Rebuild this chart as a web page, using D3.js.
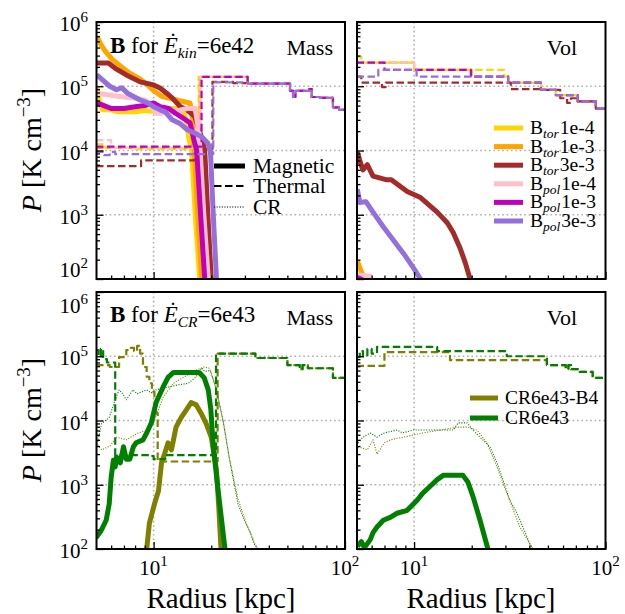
<!DOCTYPE html>
<html>
<head>
<meta charset="utf-8">
<script src="https://cdn.jsdelivr.net/npm/d3@7"></script>
<style>
body { margin: 0; background: #fff; }
svg { display: block; font-family: "Liberation Serif", "Times New Roman", serif; }
</style>
</head>
<body>
<div id="chart"></div>
<script>
// ---------- data: [radius kpc, pressure K cm^-3] ----------
const xDomain = [5.03, 100];
const yDomain = [1e2, 1e6];
const xMajor = [10, 100];
const yMajor = [1e2, 1e3, 1e4, 1e5, 1e6];

const bNames = ['tor|1e-4', 'tor|1e-3', 'tor|3e-3', 'pol|1e-4', 'pol|1e-3', 'pol|3e-3'];
const bColors = ['#ffd700', '#ffa500', '#a52a2a', '#ffc0cb', '#bf00bf', '#9370db'];
const crNames = ['CR6e43-B4', 'CR6e43'];
const crColors = ['#808000', '#008000'];

// top-left: mass weighted, magnetic
const magMassTor4 = [[5.05,1.0e5],[5.2,6e4],[5.4,4.3e4],[6,4.3e4],[6.5,4.0e4],[8,4.0e4],[9,4.2e4],[10.5,4.0e4],[12,4.5e4],[14,4.5e4],[14.8,3e4],[15.3,1.5e4],[15.8,1e4],[16.5,1e3],[17.4,1e2],[17.6,4e1]];
const magMassTor3 = [[5.05,6e5],[5.3,4.5e5],[5.6,3.5e5],[6.1,2.6e5],[6.8,2e5],[7.5,1.6e5],[8.5,1.3e5],[9.3,1.05e5],[10,8.5e4],[11,7e4],[13.5,6e4],[15.5,5.5e4],[16,3e4],[16.3,1e4],[17,1e3],[17.8,1e2],[18,5e1]];
const magMassTor33 = [[5.05,2.3e5],[5.8,2.3e5],[6.3,1.9e5],[7.2,1.5e5],[8.5,1.17e5],[10,1.05e5],[10.8,9.4e4],[11.7,7.8e4],[12.5,6.6e4],[13.8,4.8e4],[14.9,4.3e4],[16.4,3.4e4],[17.5,1.9e4],[18.5,1e4],[19.2,1e3],[20,1e2],[20.3,5e1]];
const magMassPol4 = [[5.05,7.8e4],[6.5,7e4],[8,6.5e4],[9,6.1e4],[9.5,5.5e4],[10.3,3.8e4],[11,3.8e4],[12,4e4],[13.5,4.2e4],[15,4.5e4],[16.5,4.5e4],[17,2.5e4],[17.5,1e4],[18.3,1e3],[19.3,1e2],[19.6,5e1]];
const magMassPol3 = [[5.05,5.5e4],[5.5,5e4],[6,4.5e4],[7,4.5e4],[8,4.8e4],[9,5e4],[10,5.5e4],[10.8,4.8e4],[12,4.5e4],[13,3.8e4],[14,3.3e4],[15.5,2.7e4],[16.2,1.5e4],[16.8,1e4],[17.6,1e3],[18.5,1e2],[18.7,5e1]];
const magMassPol33 = [[5.05,1.5e5],[5.5,1.2e5],[5.9,1e5],[6.4,8.8e4],[6.8,9.5e4],[7.3,7.8e4],[8.5,6.1e4],[9.3,5.5e4],[10,4.8e4],[10.8,4.3e4],[11.5,4e4],[12.5,3e4],[13.8,2.6e4],[15,2.1e4],[16.8,1.8e4],[18,1.6e4],[19.2,1.3e4],[19.8,1e4],[20.5,1e3],[21.3,1e2],[21.6,5e1]];

// top-left: mass weighted, thermal (steps)
const thermMassTail = [[31,1.1e5],[51.6,8.5e4],[53.5,6.8e4],[55,8.5e4],[65,9e4],[67,6.8e4],[74,6.6e4],[86.5,4.7e4],[93,4.3e4],[100,4.3e4]];
const thermMassTor4 = [[5,1.25e4],[5.6,1.1e4],[8,1.05e4],[17.2,1.4e5]].concat(thermMassTail);
const thermMassTor3 = [[5,1.1e4],[17.4,1.4e5]].concat(thermMassTail);
const thermMassTor33 = [[5,5.7e3],[8.6,7e3],[16.4,9e3],[18.2,1.05e4],[20.3,1.17e5],[26,1.12e5]].concat(thermMassTail);
const thermMassPol4 = [[5,1.45e4],[6,1.1e4],[17.6,1.4e5]].concat(thermMassTail);
const thermMassPol3 = [[5,1.15e4],[17.8,1.4e5]].concat(thermMassTail);
const thermMassPol33 = [[5,9.5e3],[5.5,8.5e3],[5.9,9.5e3],[6.3,8.8e3],[20.5,1.15e5]].concat(thermMassTail);

// top-right: volume weighted, magnetic
const magVolTor4 = [];
const magVolTor3 = [[5.05,1.9e2],[5.3,1.3e2],[5.5,1e2],[5.6,8e1]];
const magVolTor33 = [[5.05,9.5e3],[5.2,7e3],[5.4,5e3],[5.7,6e3],[6.1,4e3],[7.2,3.5e3],[7.6,3.5e3],[9.2,2.3e3],[10.8,1.85e3],[13.2,1.1e3],[14.9,7.5e2],[16,5.3e2],[17.4,3e2],[18.5,1.8e2],[19.6,1e2],[20,8e1]];
const magVolPol4 = [[5.05,1.15e2],[5.9,1.1e2],[6.0,9e1]];
const magVolPol3 = [[5.05,1.05e2],[5.3,1e2],[5.4,9e1]];
const magVolPol33 = [[5.05,2.5e3],[5.2,1.55e3],[5.6,1.6e3],[6.1,1.1e3],[6.9,6.5e2],[7.8,4e2],[8.8,2.5e2],[9.9,1.5e2],[10.8,1e2],[11,9e1]];

// top-right: volume weighted, thermal (steps)
const thermVolTail = [[31,1.14e5],[46,8.8e4],[55,7.3e4],[71.6,5.8e4],[89,4.5e4],[100,4.5e4]];
const thermVolTor4 = [[5,2.9e5],[5.3,2.34e5],[10,1.8e5],[29.5,1.41e5]].concat(thermVolTail);
const thermVolTor3 = [[5,2.34e5],[10,1.8e5],[20,1.41e5]].concat(thermVolTail);
const thermVolTor33 = [[5,1.41e5],[5.3,1.14e5],[6.8,9.7e4],[7.1,1.14e5],[31,1.14e5],[32,9e4],[46,8.8e4],[58,6.5e4],[63,5.5e4],[66,6.5e4],[71.6,5.8e4],[89,4.5e4],[100,4.5e4]];
const thermVolPol4 = [[5,2.34e5],[10,1.8e5],[19.8,1.41e5]].concat(thermVolTail);
const thermVolPol3 = [[5,2.34e5],[7.0,1.8e5],[19.8,1.41e5]].concat(thermVolTail);
const thermVolPol33 = [[5,1.41e5],[6.5,1.8e5],[10.3,1.41e5]].concat(thermVolTail);

// bottom-left: mass weighted, CR runs
const crTail = [[22,1.1e5],[34,9.4e4],[50,7.3e4],[58,6.3e4],[60,7.3e4],[64,6.5e4],[86.5,4.6e4],[100,4.6e4]];
const magMassB4 = [[9.2,1e2],[9.5,2.5e2],[10.1,5e2],[10.6,8e2],[11.0,2.2e3],[11.4,3e3],[11.9,4.5e3],[12.4,3.5e3],[13.1,7.9e3],[13.9,1.1e4],[14.8,1.45e4],[15.7,1.9e4],[16.7,1.75e4],[17.7,1.3e4],[18.8,9e3],[20,5.5e3],[21.3,1.7e3],[21.9,4.5e2],[22.5,1e2],[22.7,8e1]];
const magMassCR = [[5.0,1.5e2],[5.3,1.9e2],[5.65,2.8e2],[5.86,5e2],[6.0,1.3e3],[6.16,2.4e3],[6.3,1.9e3],[6.4,2.7e3],[6.7,2.2e3],[6.96,3.9e3],[7.2,2.5e3],[7.5,2.5e3],[7.84,3.9e3],[8.1,4.5e3],[8.8,5e3],[9.2,6.4e3],[9.73,9.2e3],[10.3,1.9e4],[11.2,3.3e4],[11.9,4.7e4],[12.7,5.6e4],[17.3,5.6e4],[18.4,4.6e4],[19.3,3e4],[19.9,1.5e4],[20.5,4e3],[21.7,8.4e2],[23.6,1e2],[24,8e1]];
const thermMassB4 = [[5,7.3e4],[5.9,6.8e4],[6.6,9.7e4],[7.2,1.25e5],[7.6,1.35e5],[7.9,1.2e5],[8.2,1.45e5],[8.5,1.1e5],[8.8,6.8e4],[9.2,4.8e4],[9.5,3.8e4],[9.8,2.8e4],[10.1,2.1e4],[10.3,1.3e4],[10.5,2.3e3],[21.6,1.1e5]].concat(crTail);
const thermMassCR = [[5,1.25e5],[5.15,1.0e5],[5.3,1.3e5],[5.45,9e4],[5.7,8e4],[6.3,2.9e3],[9.5,2.8e3],[10.0,2.5e3],[11.5,2.9e3],[21.2,1.1e5]].concat(crTail);
const crMassB4 = [[5.0,4.5e3],[5.35,3.5e3],[5.9,4e3],[6.4,5.5e3],[7.2,5e3],[8.3,6.4e3],[9.2,7e3],[10.0,9.2e3],[11.2,2.3e4],[12.7,3.8e4],[14.5,4.8e4],[16.7,6.1e4],[18.4,6.8e4],[19.6,6.5e4],[21.3,3e4],[23.2,9e3],[24.8,2.7e3],[27.6,6e2],[30.5,2.5e2],[33.5,1.3e2],[34.8,1e2],[35.5,9e1]];
const crMassCR = [[5.0,3.5e3],[5.35,9e3],[5.85,1.1e4],[6.3,2.1e4],[6.6,3e4],[6.9,2.6e4],[7.2,2.1e4],[7.8,3e4],[8.2,2.6e4],[9.2,3e4],[9.7,2.7e4],[10.3,3e4],[11.9,3.3e4],[13.5,3.6e4],[15.2,3.8e4],[16.7,4.8e4],[17.8,6.6e4],[18.5,5.8e4],[19.8,6e4],[21.3,3e4],[23.2,9e3],[24.8,2.7e3],[27.6,5e2],[29.8,2.8e2],[32,1.8e2],[33.5,1.2e2],[35,1e2],[36,9e1]];

// bottom-right: volume weighted, CR runs
const crVolTail = [[49.4,7.3e4],[62,6.3e4],[64,7.3e4],[66,6.3e4],[73.4,5.7e4],[85.7,4.6e4],[100,4.6e4]];
const magVolB4 = [];
const magVolCR = [[5.05,1.1e2],[5.3,1.3e2],[5.5,1.05e2],[5.9,1.4e2],[6.1,1.8e2],[6.4,2.2e2],[6.9,2.8e2],[7.5,3.1e2],[8.15,3.6e2],[9.2,4e2],[10.4,5.8e2],[11.1,7.4e2],[12.1,9.4e2],[13.2,1.2e3],[14.2,1.4e3],[18.0,1.4e3],[19.1,1.1e3],[20.3,6.6e2],[22.1,2.8e2],[24.3,1e2],[24.6,9e1]];
const thermVolB4 = [[5,7.1e4],[7.0,1.16e5],[15.4,8.7e4]].concat(crVolTail);
const thermVolCR = [[5,9.7e4],[5.2,1.2e5],[5.4,1.0e5],[5.7,1.3e5],[6.0,1.1e5],[6.4,1.4e5],[13.2,1.2e5],[30.5,1e5]].concat(crVolTail);
const crVolB4 = [[5.1,3.9e3],[5.7,3.5e3],[6.1,5e3],[6.4,3e3],[7,4.5e3],[7.5,5e3],[8.76,5.5e3],[11.1,6.4e3],[13.7,7.1e3],[16.8,7.9e3],[18.9,7.9e3],[21.3,7.1e3],[24,4.5e3],[27.1,1.9e3],[30.5,7.4e2],[35.7,2.2e2],[41.7,1e2],[42.5,9e1]];
const crVolCR = [[5.1,4.5e3],[5.4,5.5e3],[5.9,6.4e3],[6.4,5.5e3],[7,6.4e3],[8.15,7.1e3],[8.7,6.4e3],[9.9,7.1e3],[16,7.1e3],[17,9.2e3],[18.9,9.2e3],[20.3,7.1e3],[22.1,5.5e3],[24.9,3.9e3],[27.1,2.2e3],[29.1,1.2e3],[31.6,5.8e2],[34.5,3.6e2],[37,2.2e2],[40.3,1.2e2],[41.7,1e2],[42.5,9e1]];

// ---------- layout ----------
const colLeft = [96.5, 357];
const rowTop = [22, 292];
const panelW = 248.5;
const panelH = 257;

const styles = {
    mag: { width: 5, dash: null, curve: d3.curveLinear },
    therm: { width: 2.2, dash: '7.5,3.5', curve: d3.curveStepAfter },
    cr: { width: 1.1, dash: '1.1,1.5', curve: d3.curveLinear }
};

const svg = d3.select('#chart')
    .append('svg')
    .attr('width', 625)
    .attr('height', 614)
    .attr('font-family', '"Liberation Serif", "Times New Roman", serif');

const drawPanel = (col, row, lines) => {
    const x0 = colLeft[col];
    const y0 = rowTop[row];
    const x = d3.scaleLog().domain(xDomain).range([x0, x0 + panelW]);
    const y = d3.scaleLog().domain(yDomain).range([y0 + panelH, y0]);
    const g = svg.append('g');
    const clipId = `clip-${col}-${row}`;

    g.append('clipPath').attr('id', clipId)
        .append('rect')
        .attr('x', x0).attr('y', y0)
        .attr('width', panelW).attr('height', panelH);

    // dotted grid at major ticks
    const grid = g.append('g').attr('stroke', '#b0b0b0').attr('stroke-width', 1.6)
        .attr('stroke-dasharray', '1.6,2.8');
    grid.selectAll('.gx').data(xMajor.filter(v => v < xDomain[1]))
        .enter().append('line')
        .attr('x1', d => x(d)).attr('x2', d => x(d))
        .attr('y1', y0).attr('y2', y0 + panelH);
    grid.selectAll('.gy').data(yMajor.filter(v => v > yDomain[0] && v < yDomain[1]))
        .enter().append('line')
        .attr('x1', x0).attr('x2', x0 + panelW)
        .attr('y1', d => y(d)).attr('y2', d => y(d));

    // profiles
    const plot = g.append('g').attr('clip-path', `url(#${clipId})`);
    lines.forEach(l => {
        if (!l.data.length) return;
        const s = styles[l.kind];
        const line = d3.line()
            .x(d => x(d[0]))
            .y(d => y(d[1]))
            .curve(s.curve);
        plot.append('path')
            .datum(l.data)
            .attr('d', line)
            .attr('fill', 'none')
            .attr('stroke', l.color)
            .attr('stroke-width', s.width)
            .attr('stroke-dasharray', s.dash)
            .attr('stroke-linejoin', 'round');
    });

    // inward ticks on bottom and left
    const minorX = x.ticks().filter(v => !xMajor.includes(v));
    const minorY = y.ticks().filter(v => !yMajor.includes(v));
    const bottom = y0 + panelH;
    const axes = [
        [d3.axisBottom(x).tickValues(xMajor), bottom, -7, 'x'],
        [d3.axisBottom(x).tickValues(minorX), bottom, -3.5, 'x'],
        [d3.axisLeft(y).tickValues(yMajor), x0, -7, 'y'],
        [d3.axisLeft(y).tickValues(minorY), x0, -3.5, 'y']
    ];
    axes.forEach(([ax, pos, size, dir]) => {
        const a = g.append('g')
            .attr('transform', dir === 'x' ? `translate(0,${pos})` : `translate(${pos},0)`)
            .call(ax.tickSizeInner(size).tickSizeOuter(0).tickFormat(''));
        a.select('.domain').remove();
        a.selectAll('line').attr('stroke', '#000').attr('stroke-width', 1.3);
    });

    // frame
    g.append('rect')
        .attr('x', x0).attr('y', y0)
        .attr('width', panelW).attr('height', panelH)
        .attr('fill', 'none').attr('stroke', '#000').attr('stroke-width', 2);

    // tick labels
    if (col === 0) {
        yMajor.forEach(v => {
            let base = y(v) + 9;
            if (row === 0 && v === yDomain[0]) base = y(v) - 2;   // bottom label sits above its tick
            if (row === 1 && v === yDomain[1]) base = y(v) + 21;  // top label hangs below its tick
            const t = g.append('text')
                .attr('x', x0 - 8.5).attr('y', base)
                .attr('text-anchor', 'end').attr('font-size', 21);
            t.append('tspan').text('10');
            t.append('tspan').attr('dy', -9).attr('font-size', 15).text(Math.round(Math.log10(v)));
        });
    }
    if (row === 1) {
        xMajor.forEach(v => {
            const t = g.append('text')
                .attr('x', x(v)).attr('y', bottom + 26)
                .attr('text-anchor', 'middle').attr('font-size', 21);
            t.append('tspan').text('10');
            t.append('tspan').attr('dy', -9).attr('font-size', 15).text(Math.round(Math.log10(v)));
        });
    }
    return g;
};

// ---------- panels ----------
const bMassMag = [magMassTor4, magMassTor3, magMassTor33, magMassPol4, magMassPol3, magMassPol33];
const bMassTherm = [thermMassTor4, thermMassTor3, thermMassTor33, thermMassPol4, thermMassPol3, thermMassPol33];
const bVolMag = [magVolTor4, magVolTor3, magVolTor33, magVolPol4, magVolPol3, magVolPol33];
const bVolTherm = [thermVolTor4, thermVolTor3, thermVolTor33, thermVolPol4, thermVolPol3, thermVolPol33];
const crMassMag = [magMassB4, magMassCR];
const crMassTherm = [thermMassB4, thermMassCR];
const crMassCr = [crMassB4, crMassCR];
const crVolMag = [magVolB4, magVolCR];
const crVolTherm = [thermVolB4, thermVolCR];
const crVolCr = [crVolB4, crVolCR];

const buildLines = (colors, mag, therm, cr) => {
    const out = [];
    colors.forEach((c, i) => {
        out.push({ data: mag[i], color: c, kind: 'mag' });
        out.push({ data: therm[i], color: c, kind: 'therm' });
        if (cr) out.push({ data: cr[i], color: c, kind: 'cr' });
    });
    return out;
};

const pTL = drawPanel(0, 0, buildLines(bColors, bMassMag, bMassTherm));
const pTR = drawPanel(1, 0, buildLines(bColors, bVolMag, bVolTherm));
const pBL = drawPanel(0, 1, buildLines(crColors, crMassMag, crMassTherm, crMassCr));
const pBR = drawPanel(1, 1, buildLines(crColors, crVolMag, crVolTherm, crVolCr));

// ---------- annotations ----------
const title = (g, x, y, sub, val) => {
    const t = g.append('text').attr('x', x).attr('y', y).attr('font-size', 23);
    t.append('tspan').attr('font-weight', 'bold').text('B');
    t.append('tspan').text(' for ');
    t.append('tspan').attr('font-style', 'italic').text('Ė');
    t.append('tspan').attr('font-style', 'italic').attr('font-size', 15.5).attr('dy', 5).text(sub);
    t.append('tspan').attr('dy', -5).text(val);
};
title(pTL, 110, 53, 'kin', '=6e42');
title(pBL, 110, 322, 'CR', '=6e43');

[[pTL, 333, 55, 'Mass'], [pBL, 333, 325, 'Mass'], [pTR, 577, 55, 'Vol'], [pBR, 577, 325, 'Vol']]
    .forEach(([g, x, y, s]) => g.append('text').attr('x', x).attr('y', y)
        .attr('text-anchor', 'end').attr('font-size', 22).text(s));

// line-style legend (top-left)
const styleLegend = [['Magnetic', 'mag'], ['Thermal', 'therm'], ['CR', 'cr']];
styleLegend.forEach(([name, kind], i) => {
    const yy = [166, 186, 207][i];
    const s = styles[kind];
    pTL.append('line')
        .attr('x1', 214).attr('x2', 245).attr('y1', yy).attr('y2', yy)
        .attr('stroke', '#000').attr('stroke-width', s.width)
        .attr('stroke-dasharray', s.dash);
    pTL.append('text').attr('x', 253).attr('y', yy + 6.5)
        .attr('font-size', 21.5).text(name);
});

// run legend (top-right)
bNames.forEach((name, i) => {
    const [sub, val] = name.split('|');
    const yy = 128 + i * 18.6;
    pTR.append('line')
        .attr('x1', 494).attr('x2', 523).attr('y1', yy).attr('y2', yy)
        .attr('stroke', bColors[i]).attr('stroke-width', 5);
    const t = pTR.append('text').attr('x', 530).attr('y', yy + 6).attr('font-size', 19.5);
    t.append('tspan').text('B');
    t.append('tspan').attr('font-style', 'italic').attr('font-size', 13.5).attr('dy', 4).text(sub);
    t.append('tspan').attr('dy', -4).attr('dx', 1).text(val);
});

// run legend (bottom-right)
crNames.forEach((name, i) => {
    const yy = 398 + i * 20;
    pBR.append('line')
        .attr('x1', 470).attr('x2', 498).attr('y1', yy).attr('y2', yy)
        .attr('stroke', crColors[i]).attr('stroke-width', 5);
    pBR.append('text').attr('x', 505).attr('y', yy + 6)
        .attr('font-size', 19.5).text(name);
});

// axis labels
[150, 420].forEach(cy => {
    const t = svg.append('text')
        .attr('transform', `translate(41,${cy}) rotate(-90)`)
        .attr('text-anchor', 'middle').attr('font-size', 28);
    t.append('tspan').attr('font-style', 'italic').text('P');
    t.append('tspan').text(' [K cm');
    t.append('tspan').attr('font-size', 19).attr('dy', -11).text('−3');
    t.append('tspan').attr('dy', 11).text(']');
});
[221, 481].forEach(cx => {
    svg.append('text').attr('x', cx).attr('y', 608)
        .attr('text-anchor', 'middle').attr('font-size', 29)
        .text('Radius [kpc]');
});
</script>
</body>
</html>
